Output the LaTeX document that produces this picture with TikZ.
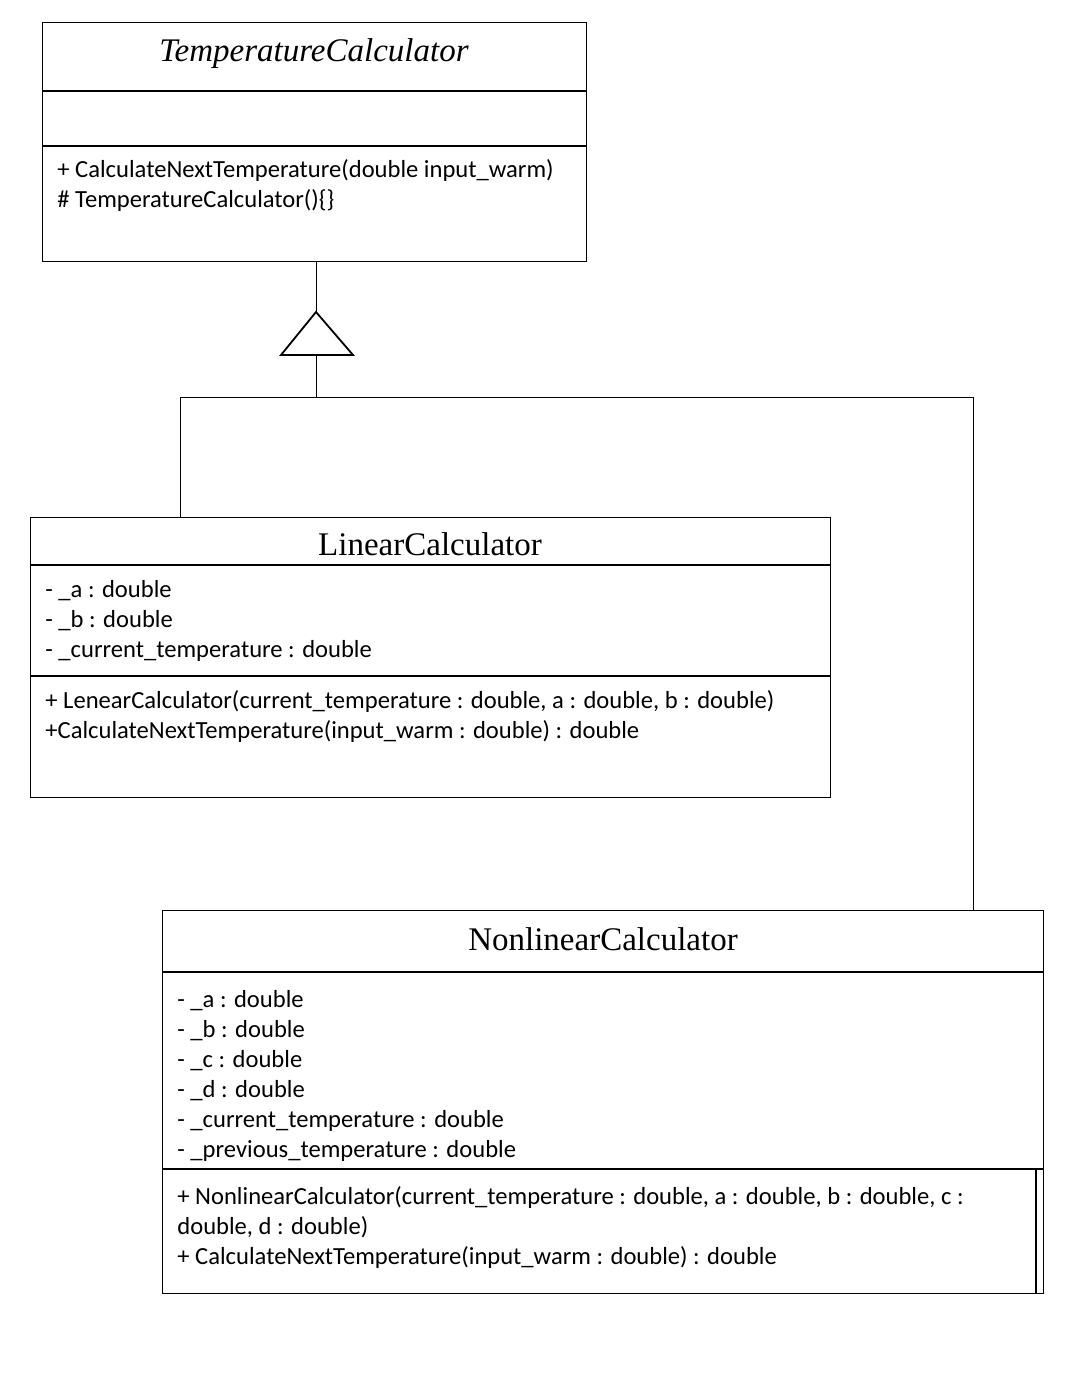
\documentclass[tikz,border=0pt]{standalone}
\usepackage{fontspec}
\newfontfamily\umlsans{Carlito}
\newfontfamily\umlserif{Liberation Serif}
\begin{document}
\begin{tikzpicture}[x=0.5pt, y=-0.5pt,
  classbox/.style={rectangle, draw, line width=0.7pt, inner sep=0pt, anchor=north west},
  classname/.style={rectangle, draw=none, anchor=base, inner sep=0pt, font=\umlserif\fontsize{16.5}{20}\selectfont},
  members/.style={rectangle, draw=none, anchor=base west, align=left, inner sep=0pt, font=\umlsans\fontsize{12.3}{15}\selectfont},
  compart/.style={line width=0.7pt},
  link/.style={line width=0.5pt}]
\useasboundingbox[fill=white] (0,0) rectangle (1064,1379);
%\draw[help lines, step=50] (0,0) grid (1064,1379);
% members nodes sit on the baseline of their last line
%%%%%%%%%%%%%%%%%%%%%%%%%%%%%%% abstract base class
\node[classbox, minimum width=272pt, minimum height=119.5pt] (tcBox) at (42,22){};
\draw[compart] (42,91) -- (586,91);
\draw[compart] (42,146) -- (586,146);
\node[classname] (tcName) at (314,62){\itshape TemperatureCalculator};
\node[members] (tcOps) at (57,208){+ CalculateNextTemperature(double input\_warm)\\\# TemperatureCalculator()\{\}};

%%%%%%%%%%%%%%%%%%%%%%%%%%%%%%% generalisation
\coordinate (genTip) at (316,312);
\coordinate (genBase) at (316,355);
\coordinate (split) at (316,398);
\coordinate (lcTop) at (180,517);
\coordinate (ncTop) at (973,910);
\draw[link] (genTip |- tcBox.south) -- (genTip);
\draw[line width=0.9pt, fill=white] (genTip) -- ++(37,43) -- ++(-72,0) -- cycle;
\draw[link] (genBase) -- (split);
\draw[link] (split) -| (lcTop);
\draw[link] (split) -| (ncTop);

%%%%%%%%%%%%%%%%%%%%%%%%%%%%%%% LinearCalculator
\node[classbox, minimum width=400pt, minimum height=140pt] (lcBox) at (30,517){};
\draw[compart] (30,565) -- (830,565);
\draw[compart] (30,676) -- (830,676);
\node[classname] (lcName) at (430,555){LinearCalculator};
\node[members] (lcAttr) at (45,657){- \_a : double\\- \_b : double\\- \_current\_temperature : double};
\node[members] (lcOps) at (45,738){+ LenearCalculator(current\_temperature : double, a : double, b : double)\\+CalculateNextTemperature(input\_warm : double) : double};

%%%%%%%%%%%%%%%%%%%%%%%%%%%%%%% NonlinearCalculator
\node[classbox, minimum width=440.5pt, minimum height=191.5pt] (ncBox) at (162,910){};
\draw[compart] (162,972) -- (1043,972);
\draw[compart] (162,1169) -- (1043,1169);
\draw[compart] (1036,1169) -- (1036,1293);
\node[classname] (ncName) at (603,950){NonlinearCalculator};
\node[members] (ncAttr) at (177,1157){- \_a : double\\- \_b : double\\- \_c : double\\- \_d : double\\- \_current\_temperature : double\\- \_previous\_temperature : double};
\node[members] (ncOps) at (177,1264){+ NonlinearCalculator(current\_temperature : double, a : double, b : double, c :\\double, d : double)\\+ CalculateNextTemperature(input\_warm : double) : double};
\end{tikzpicture}
\end{document}
